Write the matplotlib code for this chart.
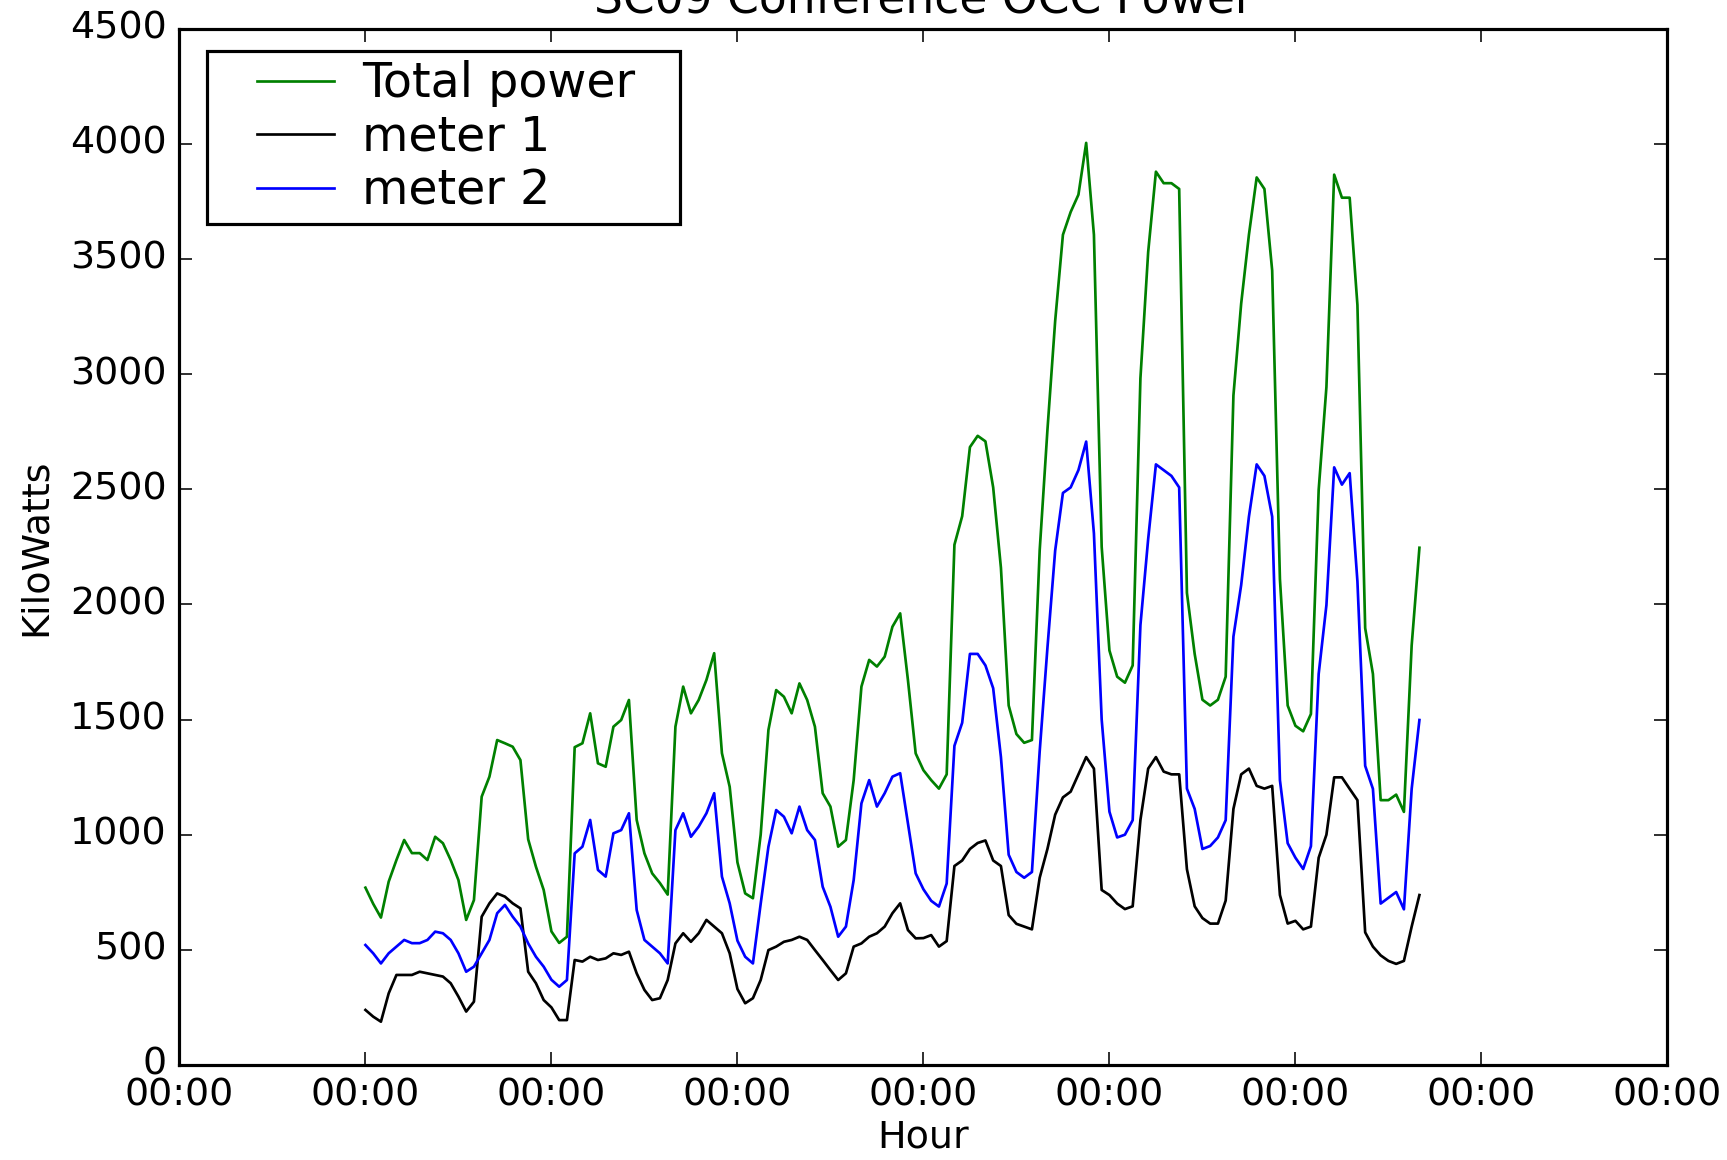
import pandas as pd
import numpy as np
import matplotlib
matplotlib.use('Agg')
import matplotlib.pyplot as plt
import matplotlib.dates as mdates
from matplotlib.legend_handler import HandlerLine2D

plt.style.use('classic')

# readings every 2 hours, one list per 2-day block
total_a = [770, 700, 640, 796, 890, 977, 920, 920, 890, 991, 963, 890, 803, 630, 716, 1165, 1252, 1411, 1397, 1382, 1324, 980, 861, 760]
total_b = [580, 530, 557, 1380, 1397, 1527, 1310, 1295, 1469, 1498, 1585, 1064, 919, 832, 790, 740, 1469, 1643, 1527, 1585, 1672, 1788, 1354, 1208]
total_c = [880, 745, 724, 1000, 1455, 1628, 1599, 1527, 1657, 1585, 1469, 1180, 1122, 948, 977, 1237, 1643, 1759, 1730, 1773, 1903, 1961, 1672, 1353]
total_d = [1280, 1237, 1200, 1262, 2259, 2383, 2683, 2732, 2708, 2508, 2159, 1561, 1437, 1399, 1411, 2234, 2757, 3231, 3605, 3704, 3779, 4004, 3605, 2250]
total_e = [1800, 1686, 1660, 1735, 2982, 3530, 3879, 3829, 3829, 3804, 2050, 1785, 1586, 1561, 1586, 1686, 2907, 3306, 3605, 3854, 3804, 3450, 2110, 1561]
total_f = [1473, 1449, 1524, 2497, 2944, 3866, 3766, 3766, 3300, 1897, 1698, 1150, 1150, 1174, 1099, 1822, 2246]

meter1_a = [239, 210, 188, 311, 391, 391, 391, 405, 398, 391, 384, 355, 297, 232, 275, 644, 702, 745, 731, 702, 680, 405, 355, 282]
meter1_b = [250, 195, 195, 456, 449, 470, 456, 463, 485, 478, 492, 398, 326, 282, 290, 369, 528, 572, 535, 572, 630, 601, 572, 485]
meter1_c = [330, 268, 290, 369, 499, 514, 535, 543, 557, 543, 499, 456, 412, 369, 398, 514, 528, 557, 572, 601, 659, 702, 586, 550]
meter1_d = [551, 564, 514, 538, 864, 888, 938, 964, 975, 888, 864, 651, 613, 601, 589, 813, 938, 1087, 1162, 1187, 1262, 1337, 1287, 760]
meter1_e = [738, 701, 677, 689, 1064, 1287, 1337, 1274, 1262, 1262, 850, 689, 638, 614, 614, 714, 1112, 1262, 1287, 1212, 1200, 1212, 738, 614]
meter1_f = [626, 589, 601, 900, 1000, 1249, 1249, 1199, 1150, 576, 514, 476, 452, 439, 452, 601, 738]

meter2_a = [521, 485, 441, 485, 514, 543, 529, 529, 543, 579, 572, 543, 485, 405, 427, 485, 543, 659, 695, 644, 601, 528, 470, 427]
meter2_b = [370, 340, 369, 919, 948, 1064, 847, 818, 1006, 1020, 1093, 673, 543, 514, 485, 441, 1020, 1093, 991, 1035, 1093, 1180, 818, 702]
meter2_c = [540, 470, 441, 700, 948, 1107, 1078, 1006, 1122, 1020, 977, 774, 687, 557, 601, 803, 1136, 1237, 1122, 1180, 1252, 1267, 1050, 832]
meter2_d = [763, 713, 688, 788, 1386, 1486, 1785, 1785, 1735, 1636, 1337, 913, 838, 813, 838, 1361, 1811, 2234, 2484, 2508, 2583, 2707, 2308, 1500]
meter2_e = [1100, 988, 1000, 1063, 1910, 2284, 2608, 2583, 2558, 2508, 1200, 1112, 938, 951, 988, 1063, 1860, 2084, 2381, 2608, 2558, 2381, 1237, 963]
meter2_f = [900, 851, 950, 1698, 1997, 2595, 2520, 2570, 2100, 1299, 1199, 701, 726, 751, 676, 1199, 1498]

total = total_a + total_b + total_c + total_d + total_e + total_f
meter1 = meter1_a + meter1_b + meter1_c + meter1_d + meter1_e + meter1_f
meter2 = meter2_a + meter2_b + meter2_c + meter2_d + meter2_e + meter2_f

times = pd.date_range('2009-11-10 00:00', periods=len(total), freq='2h')
ticks = pd.date_range('2009-11-08', '2009-11-24', freq='2D')

dpi = 228
fig = plt.figure(figsize=(1727 / dpi, 1160 / dpi), dpi=dpi)
ax = fig.add_axes([0.1039, 0.0819, 0.8616, 0.8934])

lw = 0.85
ax.plot(times, total, color='g', lw=lw, label='Total power')
ax.plot(times, meter1, color='k', lw=lw, label='meter 1')
ax.plot(times, meter2, color='b', lw=lw, label='meter 2')

ax.set_xlim(ticks[0], ticks[-1])
ax.set_xticks(ticks)
ax.xaxis.set_major_formatter(mdates.DateFormatter('%H:%M'))
ax.set_ylim(0, 4500)
ax.set_yticks(np.arange(0, 4501, 500))

ax.set_title('SC09 Conference OCC Power')
ax.set_xlabel('Hour', labelpad=2)
ax.set_ylabel('KiloWatts')

# old-style legend box: wide, tight rows
ax.legend(loc='upper left', bbox_to_anchor=(0.0187, 0.5, 0.3177, 0.4787),
          mode='expand', borderaxespad=0, prop={'size': 15},
          borderpad=0.2, labelspacing=0.14, handlelength=3.31,
          handletextpad=-0.25,
          handler_map={plt.Line2D: HandlerLine2D(marker_pad=0.85)})

fig.savefig('out.png', dpi=dpi, facecolor='white')
